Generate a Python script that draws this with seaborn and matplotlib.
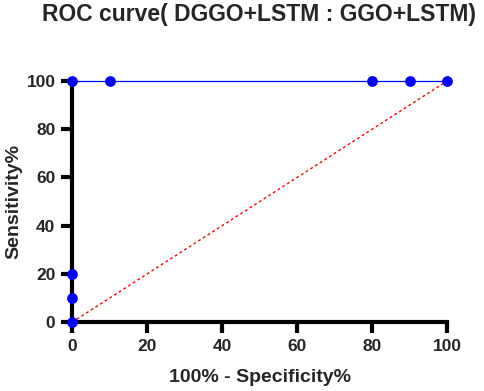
import matplotlib
matplotlib.use("Agg")
import matplotlib.pyplot as plt
import seaborn as sns
import pandas as pd

# ROC points (100% - Specificity%, Sensitivity%)
fpr = [0, 0, 0, 0, 10, 80, 90, 100]
tpr = [0, 10, 20, 100, 100, 100, 100, 100]
ticks = [0, 20, 40, 60, 80, 100]

df = pd.DataFrame({"fpr": fpr, "tpr": tpr})

sns.set_style("ticks")
plt.rcParams["font.family"] = ["Liberation Sans", "DejaVu Sans"]

fig = plt.figure(figsize=(4.84, 3.91), dpi=100)
ax = fig.add_axes([0.149, 0.176, 0.775, 0.617])

# reference diagonal
sns.lineplot(x=[0, 100], y=[0, 100], ax=ax, color="red", linestyle=(0, (2, 2)),
             linewidth=1, clip_on=False, zorder=2)

sns.lineplot(data=df, x="fpr", y="tpr", ax=ax, sort=False, estimator=None,
             color="blue", linewidth=0.9, clip_on=False, zorder=3)
sns.scatterplot(data=df, x="fpr", y="tpr", ax=ax, color="blue", s=60,
                edgecolor="blue", linewidth=0, clip_on=False, zorder=5)

ax.set_xlim(0, 100)
ax.set_ylim(0, 100)
ax.set_xticks(ticks)
ax.set_yticks(ticks)

for side in ["top", "right"]:
    ax.spines[side].set_visible(False)
for side in ["left", "bottom"]:
    ax.spines[side].set_linewidth(3)
    ax.spines[side].set_color("black")
    ax.spines[side].set_zorder(4)

ax.tick_params(axis="both", length=8, width=3, labelsize=12.5, pad=4, color="black")
for lab in ax.get_xticklabels() + ax.get_yticklabels():
    lab.set_fontweight("bold")

ax.set_xlabel("100% - Specificity%", fontsize=14, fontweight="bold", labelpad=11)
ax.set_ylabel("Sensitivity%", fontsize=14, fontweight="bold", labelpad=3)
fig.text(0.536, 1 - 15 / 391, "ROC curve( DGGO+LSTM : GGO+LSTM)", fontsize=16.5,
         fontweight="bold", ha="center", va="center")

fig.savefig("out.png", dpi=100)
